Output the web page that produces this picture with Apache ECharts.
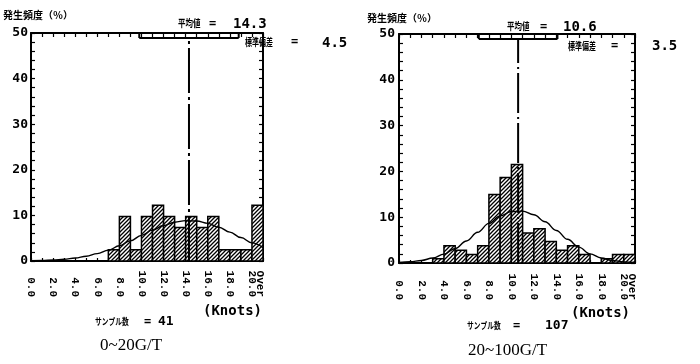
<!DOCTYPE html>
<html><head><meta charset="utf-8">
<script src="https://cdn.jsdelivr.net/npm/echarts@6/dist/echarts.min.js"></script>
<style>html,body{margin:0;padding:0;background:#fff}#c{width:700px;height:364px}</style>
</head><body><div id="c"></div>
<script>
// ---- data ----
const binStarts = [0,1,2,3,4,5,6,7,8,9,10,11,12,13,14,15,16,17,18,19,20];
const leftPct  = [0,0,0,0,0,0,0,2.44,9.76,2.44,9.76,12.20,9.76,7.32,9.76,7.32,9.76,2.44,2.44,2.44,12.20];
const rightPct = [0,0,0,0.93,3.74,2.80,1.87,3.74,14.95,18.69,21.50,6.54,7.48,4.67,2.80,3.74,1.87,0,0.93,1.87,1.87];
const curveX = [0,1,2,3,4,5,6,7,8,9,10,11,12,13,14,15,16,17,18,19,20,21];
const leftCurve  = [0.06,0.11,0.21,0.38,0.65,1.05,1.62,2.38,3.33,4.43,5.62,6.78,7.78,8.51,8.85,8.76,8.26,7.41,6.33,5.14,3.98,2.93];
const rightCurve = [0.12,0.26,0.56,1.08,1.93,3.17,4.81,6.72,8.65,10.27,11.23,11.33,10.52,9.01,7.11,5.17,3.47,2.0,1.1,0.55,0.25,0.12];
// "Over" label listed first so the axis does not hide it next to "20.0"
const xTickValues = [20.75,0,2,4,6,8,10,12,14,16,18,20];
const xTickLabels = ['Over','0.0','2.0','4.0','6.0','8.0','10.0','12.0','14.0','16.0','18.0','20.0'];
const yTickLabels = ['0','10','20','30','40','50'];
const leftMean = 14.3, leftSd = 4.5, leftN = 41;
const rightMean = 10.6, rightSd = 3.5, rightN = 107;
const leftTitle = '0~20G/T', rightTitle = '20~100G/T';
const yName = '発生頻度（％）', unitName = '(Knots)';

// ---- hatch pattern ----
const pc = document.createElement('canvas');
pc.width = 4; pc.height = 4;
const g = pc.getContext('2d');
g.fillStyle = '#fff'; g.fillRect(0,0,4,4);
g.strokeStyle = '#000'; g.lineWidth = 1.3;
g.beginPath();
g.moveTo(-1,5); g.lineTo(5,-1);
g.moveTo(-1,1); g.lineTo(1,-1);
g.moveTo(3,5); g.lineTo(5,3);
g.stroke();
const hatch = {image: pc, repeat: 'repeat'};

const chart = echarts.init(document.getElementById('c'), null, {renderer:'canvas'});
const BR = 48.9;
const monoB = 'DejaVu Sans Mono';
const cjk = 'Noto Sans CJK JP';

function xAxes(gi, margin) {
  return [{
    type:'value', gridIndex:gi, min:0, max:21, interval:1, position:'bottom',
    axisLine:{show:true, onZero:false, lineStyle:{color:'#000', width:2}},
    axisTick:{show:true, inside:true, length:3, lineStyle:{color:'#000', width:1.2}},
    splitLine:{show:false},
    axisLabel:{show:true, customValues:xTickValues, rotate:-90, align:'right', verticalAlign:'middle', margin:margin,
      showMinLabel:true, showMaxLabel:true, hideOverlap:false,
      color:'#000', fontFamily:'Liberation Mono', fontWeight:'bold', fontSize:11,
      formatter:(v)=>{const k=xTickValues.indexOf(v); return k>=0?xTickLabels[k]:'';}}
  },{
    type:'value', gridIndex:gi, min:0, max:21, interval:1, position:'top',
    axisLine:{show:true, onZero:false, lineStyle:{color:'#000', width:2}},
    axisTick:{show:true, inside:true, length:4, lineStyle:{color:'#000', width:1.2}},
    splitLine:{show:false}, axisLabel:{show:false}
  }];
}
function yAxes(gi, margin) {
  return [{
    type:'value', gridIndex:gi, min:0, max:50, interval:10, position:'left',
    axisLine:{show:true, onZero:false, lineStyle:{color:'#000', width:2}},
    axisTick:{show:true, inside:true, length:4, lineStyle:{color:'#000', width:1.2}},
    minorTick:{show:true, splitNumber:5, length:4, lineStyle:{color:'#000', width:1.2}},
    splitLine:{show:false},
    axisLabel:{color:'#000', fontFamily:monoB, fontWeight:'bold', fontSize:13, margin:margin,
      formatter:(v)=>yTickLabels[Math.round(v/10)]}
  },{
    type:'value', gridIndex:gi, min:0, max:50, interval:10, position:'right',
    axisLine:{show:true, onZero:false, lineStyle:{color:'#000', width:2}},
    axisTick:{show:true, inside:true, length:4, lineStyle:{color:'#000', width:1.2}},
    minorTick:{show:true, splitNumber:5, length:4, lineStyle:{color:'#000', width:1.2}},
    splitLine:{show:false}, axisLabel:{show:false}
  }];
}
function barSeries(xi, yi, vals) {
  return {
    type:'custom', xAxisIndex:xi, yAxisIndex:yi, z:2,
    itemStyle:{color:hatch, borderColor:'#000', borderWidth:1.5},
    data: binStarts.map((b,i)=>[b, vals[i]]).filter(d=>d[1]>0),
    renderItem:(params, api)=>{
      const b = api.value(0), v = api.value(1);
      const p0 = api.coord([b, v]), p1 = api.coord([b+1, 0]);
      return {type:'rect', shape:{x:p0[0], y:p0[1], width:p1[0]-p0[0], height:p1[1]-p0[1]},
        style:api.style()};
    }
  };
}
function curveSeries(xi, yi, vals) {
  return {type:'line', xAxisIndex:xi, yAxisIndex:yi, z:4, smooth:0.4, smoothMonotone:'x', showSymbol:false,
    symbol:'none', lineStyle:{color:'#000', width:1.4},
    data: curveX.map((x,i)=>[x, vals[i]])};
}
function meanSeries(xi, yi, m, dash) {
  return {type:'line', xAxisIndex:xi, yAxisIndex:yi, z:5, symbol:'none',
    lineStyle:{color:'#000', width:2, type:dash}, data:[[m, 0],[m, BR]]};
}
function bracketSeries(xi, yi, m, s) {
  return {type:'custom', xAxisIndex:xi, yAxisIndex:yi, z:5, data:[[m, s]],
    renderItem:(params, api)=>{
      const mm = api.value(0), ss = api.value(1);
      const a = api.coord([mm-ss, BR]), b = api.coord([mm+ss, BR]);
      const at = api.coord([mm-ss, 50]), bt = api.coord([mm+ss, 50]);
      const st = {stroke:'#000', lineWidth:2};
      return {type:'group', children:[
        {type:'line', shape:{x1:a[0], y1:a[1], x2:b[0], y2:b[1]}, style:st},
        {type:'line', shape:{x1:a[0], y1:a[1], x2:at[0], y2:at[1]}, style:st},
        {type:'line', shape:{x1:b[0], y1:b[1], x2:bt[0], y2:bt[1]}, style:st}
      ]};
    }};
}
function txt(t, x, y, size, family, sx, weight) {
  return {type:'text', x:x, y:y, scaleX:sx||1, silent:true,
    style:{text:t, x:0, y:0, fill:'#000', font:(weight||'bold')+' '+size+'px "'+family+'"', textVerticalAlign:'middle'}};
}

const option = {
  animation:false,
  backgroundColor:'#fff',
  grid:[
    {left:31, top:33, width:232, height:228},
    {left:399, top:34, width:236, height:229}
  ],
  xAxis:[...xAxes(0, 36), ...xAxes(1, 37)],
  yAxis:[...yAxes(0, 3), ...yAxes(1, 4)],
  series:[
    barSeries(0,0,leftPct), curveSeries(0,0,leftCurve), meanSeries(0,0,leftMean,[45,4,3,4]), bracketSeries(0,0,leftMean,leftSd),
    barSeries(2,2,rightPct), curveSeries(2,2,rightCurve), meanSeries(2,2,rightMean,[40,4,2,4]), bracketSeries(2,2,rightMean,rightSd)
  ],
  graphic:[
    txt(yName, 3, 15, 10, cjk),
    txt('平均値', 178, 23, 10, cjk, 0.75),
    txt('=', 209, 24, 12, monoB),
    txt(leftMean.toFixed(1), 233, 24, 14, monoB),
    txt('標準偏差', 245, 42, 10, cjk, 0.7),
    txt('=', 291, 42, 12, monoB),
    txt(leftSd.toFixed(1), 322, 43, 14, monoB),
    txt(unitName, 203, 311, 14, monoB),
    txt('サンプル数', 95, 322, 9, cjk, 0.75),
    txt('=', 144, 322, 12, monoB),
    txt(String(leftN), 158, 322, 13, monoB),
    txt(leftTitle, 100, 346, 17, 'Liberation Serif', 1, 'normal'),

    txt(yName, 367, 18, 10, cjk),
    txt('平均値', 507, 26, 10, cjk, 0.75),
    txt('=', 540, 27, 12, monoB),
    txt(rightMean.toFixed(1), 563, 27, 14, monoB),
    txt('標準偏差', 568, 46, 10, cjk, 0.7),
    txt('=', 611, 46, 12, monoB),
    txt(rightSd.toFixed(1), 652, 46, 14, monoB),
    txt(unitName, 571, 313, 14, monoB),
    txt('サンプル数', 467, 326, 9, cjk, 0.75),
    txt('=', 513, 326, 12, monoB),
    txt(String(rightN), 545, 326, 13, monoB),
    txt(rightTitle, 468, 351, 17, 'Liberation Serif', 1, 'normal')
  ]
};
chart.setOption(option);
</script></body></html>
